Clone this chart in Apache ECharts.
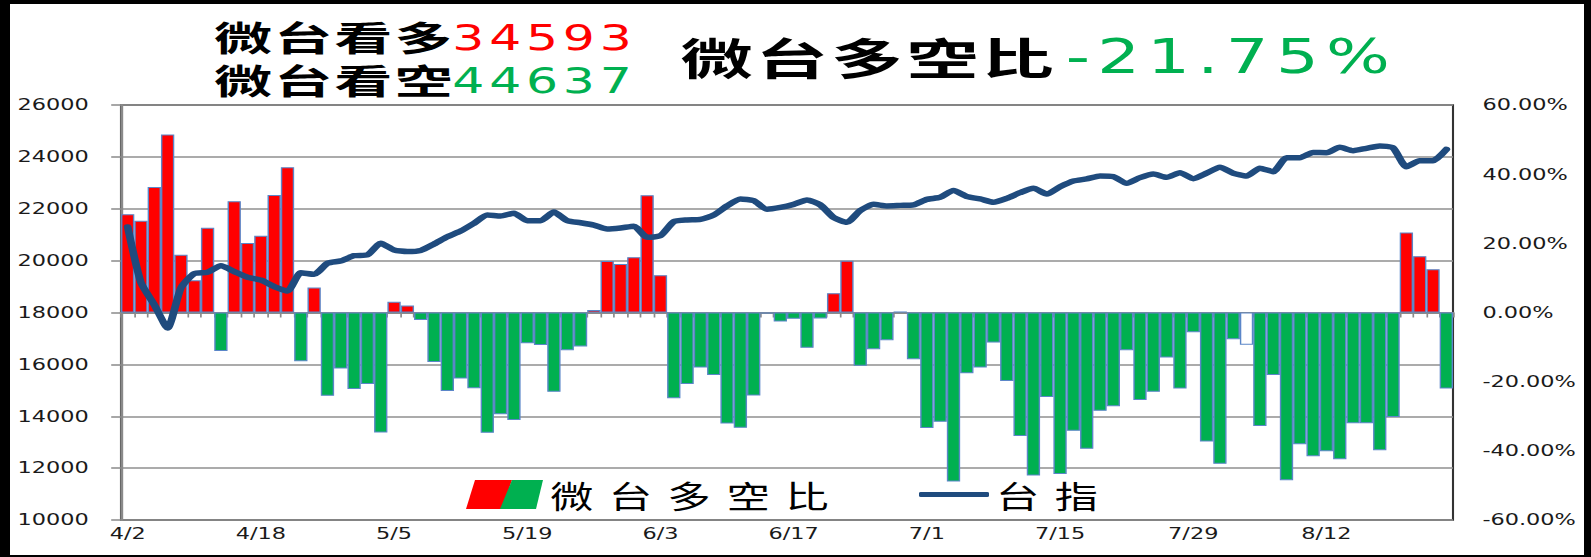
<!DOCTYPE html>
<html>
<head>
<meta charset="utf-8">
<script src="https://cdn.jsdelivr.net/npm/echarts@6/dist/echarts.min.js"></script>
<style>
html,body{margin:0;padding:0;background:#fff;}
#wrap{position:relative;width:1591px;height:557px;overflow:hidden;background:#fff;}
#chart{position:absolute;left:0;top:0;height:557px;transform-origin:0 0;}
#frame{position:absolute;left:0;top:0;width:1591px;height:557px;box-sizing:border-box;border-style:solid;border-color:#000;border-width:4px 7px 2px 10px;pointer-events:none;}
</style>
</head>
<body>
<div id="wrap"><div id="chart"></div><div id="frame"></div></div>
<script>
// ---- data ----
const dates = [
 '4/2','4/7','4/8','4/9','4/10','4/11','4/14','4/15','4/16','4/17',
 '4/18','4/21','4/22','4/23','4/24','4/25','4/28','4/29','4/30','5/2',
 '5/5','5/6','5/7','5/8','5/9','5/12','5/13','5/14','5/15','5/16',
 '5/19','5/20','5/21','5/22','5/23','5/26','5/27','5/28','5/29','6/2',
 '6/3','6/4','6/5','6/6','6/9','6/10','6/11','6/12','6/13','6/16',
 '6/17','6/18','6/19','6/20','6/23','6/24','6/25','6/26','6/27','6/30',
 '7/1','7/2','7/3','7/4','7/7','7/8','7/9','7/10','7/11','7/14',
 '7/15','7/16','7/17','7/18','7/21','7/22','7/23','7/24','7/25','7/28',
 '7/29','7/30','7/31','8/1','8/4','8/5','8/6','8/7','8/8','8/11',
 '8/12','8/13','8/14','8/15','8/18','8/19','8/20','8/21','8/22','8/25'
];
// 微台多空比 (%)
const ratio = [
 28.4, 26.5, 36.3, 51.5, 16.7, 9.3, 24.5, -11.1, 32.2, 20.1,
 22.2, 34.0, 42.0, -14.1, 7.2, -24.1, -16.2, -22.1, -20.7, -34.7,
 3.1, 2.0, -2.2, -14.3, -22.7, -19.1, -21.9, -34.8, -29.4, -31.1,
 -8.9, -9.4, -22.9, -10.9, -9.8, 0.7, 14.9, 14.0, 16.0, 33.9,
 10.8, -24.8, -20.7, -15.9, -18.1, -32.1, -33.3, -24.0, -0.3, -2.6,
 -1.8, -10.2, -1.7, 5.6, 15.0, -15.4, -10.6, -8.0, 0.3, -13.5,
 -33.4, -31.6, -48.9, -17.6, -15.9, -8.7, -19.8, -35.7, -47.1, -24.4,
 -46.7, -34.2, -39.4, -28.4, -27.1, -10.9, -25.3, -22.9, -13.0, -22.0,
 -5.7, -37.3, -43.7, -7.7, -9.3, -32.8, -18.1, -48.5, -38.1, -41.6,
 -40.1, -42.4, -32.0, -32.0, -39.8, -30.2, 23.1, 16.3, 12.5, -22.0
];
// 台指
const taiex = [
 21300, 19150, 18300, 17400, 18950, 19500, 19550, 19800, 19580, 19360,
 19250, 19000, 18830, 19530, 19470, 19900, 19990, 20190, 20220, 20670,
 20410, 20350, 20390, 20640, 20920, 21140, 21440, 21760, 21720, 21830,
 21540, 21540, 21870, 21540, 21460, 21370, 21220, 21260, 21330, 20900,
 20960, 21500, 21570, 21590, 21760, 22110, 22380, 22310, 21980, 22050,
 22170, 22340, 22150, 21660, 21480, 21930, 22170, 22110, 22130, 22150,
 22360, 22440, 22700, 22470, 22380, 22250, 22400, 22620, 22790, 22570,
 22850, 23070, 23150, 23260, 23240, 22980, 23200, 23340, 23210, 23390,
 23160, 23370, 23600, 23370, 23260, 23560, 23430, 23970, 23970, 24170,
 24160, 24370, 24240, 24330, 24420, 24350, 23620, 23850, 23850, 24290
];
const longCount = '34593';
const shortCount = '44637';
const ratioText = '-21.75%';
const hollowIdx = [58, 84];

// ---- layout (horizontal stretch like reference) ----
const S = 1.4;
const FW = 1591, FH = 557;
const W = FW / S;
const el = document.getElementById('chart');
el.style.width = W + 'px';
el.style.transform = 'scaleX(' + S + ')';
const X = v => v / S;

const RED = '#FF0000', GREEN = '#00B050', LINE = '#1F4B7E';
const CJK = '"Noto Sans CJK TC","Noto Sans CJK SC",sans-serif';
const NUM = '"DejaVu Sans",Verdana,sans-serif';

function spaced(str, key) {
  return str.split('').map(c => '{' + key + '|' + c + '}').join('');
}

const barIconSvg = '<svg xmlns="http://www.w3.org/2000/svg" width="77" height="29" viewBox="0 0 77 29" preserveAspectRatio="none">' +
  '<polygon points="9,0 46,0 36,29 0,29" fill="#FF0000"/>' +
  '<polygon points="46,0 77,0 70,29 34,29" fill="#00B050"/></svg>';
const barIcon = 'image://data:image/svg+xml;charset=utf-8,' + encodeURIComponent(barIconSvg);

const chart = echarts.init(el, null, {renderer: 'svg', width: W, height: FH});

const legendRich = {
  f: {fontFamily: CJK, fontSize: 31, color: '#000', lineHeight: 34, padding: [0, 5.5, 0, 0]},
  c: {fontFamily: CJK, fontSize: 31, color: '#000', lineHeight: 34, padding: [0, 5.5, 0, 5.5]}
};

const option = {
  animation: false,
  backgroundColor: 'transparent',
  grid: {
    left: X(121), right: W - X(1453), top: 105, bottom: FH - 520,
    show: true, borderColor: '#333', borderWidth: 1.5, containLabel: false
  },
  legend: [
    {
      data: [{name: '微台多空比', icon: barIcon}],
      left: X(459), top: 474,
      itemWidth: X(77), itemHeight: 29, itemGap: 0,
      selectedMode: false,
      formatter: n => '{f|' + n[0] + '}' + spaced(n.slice(1), 'c'),
      textStyle: {rich: legendRich}
    },
    {
      data: [{name: '台指', icon: 'roundRect'}],
      left: X(912), top: 474,
      itemWidth: X(70), itemHeight: 5, itemGap: 0,
      selectedMode: false,
      formatter: n => '{f|' + n[0] + '}' + spaced(n.slice(1), 'c'),
      textStyle: {rich: legendRich}
    }
  ],
  xAxis: {
    type: 'category',
    data: dates,
    boundaryGap: true,
    axisLine: {show: true, lineStyle: {color: '#8a8a8a', width: 2}},
    axisTick: {show: true, interval: 0, length: 5, lineStyle: {color: '#8a8a8a', width: 1.2}},
    axisLabel: {
      interval: (i) => i % 10 === 0,
      fontFamily: NUM, fontSize: 16, color: '#1a1a1a', margin: 6
    },
    splitLine: {show: false}
  },
  yAxis: [
    {
      type: 'value', min: 10000, max: 26000, interval: 2000, position: 'left',
      axisLine: {show: true, lineStyle: {color: '#8a8a8a', width: 2}},
      axisTick: {show: true, length: 7, lineStyle: {color: '#8a8a8a', width: 1.5}},
      axisLabel: {fontFamily: NUM, fontSize: 16, color: '#1a1a1a', margin: 23, formatter: v => String(v)},
      splitLine: {show: true, lineStyle: {color: '#8f8f8f', width: 1.5}}
    },
    {
      type: 'value', min: -60, max: 60, interval: 20, position: 'right',
      axisLine: {show: false}, axisTick: {show: false}, splitLine: {show: false},
      axisLabel: {
        fontFamily: NUM, fontSize: 16, color: '#1a1a1a', margin: 21,
        formatter: v => v.toFixed(2) + '%'
      }
    }
  ],
  series: [
    {
      name: '微台多空比', type: 'bar', yAxisIndex: 1,
      barCategoryGap: '0%',
      itemStyle: {color: RED, borderColor: '#5b86c8', borderWidth: 1},
      data: ratio.map((v, i) => ({
        value: v,
        itemStyle: {color: hollowIdx.includes(i) ? '#ffffff' : (v >= 0 ? RED : GREEN)}
      })),
      z: 2
    },
    {
      name: '台指', type: 'line', yAxisIndex: 0,
      data: taiex, showSymbol: false, symbol: 'none', smooth: 0.2,
      itemStyle: {color: LINE},
      lineStyle: {color: LINE, width: 5.5, cap: 'round', join: 'round'},
      z: 3
    }
  ],
  graphic: [
    {
      type: 'text', x: X(213), y: 36, scaleX: 1.22,
      style: {
        text: spaced('微台看多', 'c'), verticalAlign: 'middle', align: 'left',
        rich: {c: {fontFamily: CJK, fontSize: 34, fontWeight: 'bold', fill: '#000', lineHeight: 36, padding: [0, 0.6, 0, 0.6]}}
      }
    },
    {
      type: 'text', x: X(450), y: 37,
      style: {
        text: spaced(longCount, 'd'), verticalAlign: 'middle', align: 'left',
        rich: {d: {fontFamily: NUM, fontSize: 36, fill: RED, lineHeight: 36, padding: [0, 1.7, 0, 1.7]}}
      }
    },
    {
      type: 'text', x: X(213), y: 79, scaleX: 1.22,
      style: {
        text: spaced('微台看空', 'c'), verticalAlign: 'middle', align: 'left',
        rich: {c: {fontFamily: CJK, fontSize: 34, fontWeight: 'bold', fill: '#000', lineHeight: 36, padding: [0, 0.6, 0, 0.6]}}
      }
    },
    {
      type: 'text', x: X(450), y: 80,
      style: {
        text: spaced(shortCount, 'd'), verticalAlign: 'middle', align: 'left',
        rich: {d: {fontFamily: NUM, fontSize: 36, fill: GREEN, lineHeight: 36, padding: [0, 1.7, 0, 1.7]}}
      }
    },
    {
      type: 'text', x: X(679), y: 56, scaleX: 1.2,
      style: {
        text: spaced('微台多空比', 'c'), verticalAlign: 'middle', align: 'left',
        rich: {c: {fontFamily: CJK, fontSize: 43, fontWeight: 'bold', fill: '#000', lineHeight: 46, padding: [0, 0.9, 0, 0.9]}}
      }
    },
    {
      type: 'text', x: X(1062), y: 57,
      style: {
        text: spaced(ratioText, 'd'), verticalAlign: 'middle', align: 'left',
        rich: {d: {fontFamily: NUM, fontSize: 48, fill: GREEN, lineHeight: 50, padding: [0, 2.6, 0, 2.6]}}
      }
    }
  ]
};
chart.setOption(option);
</script>
</body>
</html>
